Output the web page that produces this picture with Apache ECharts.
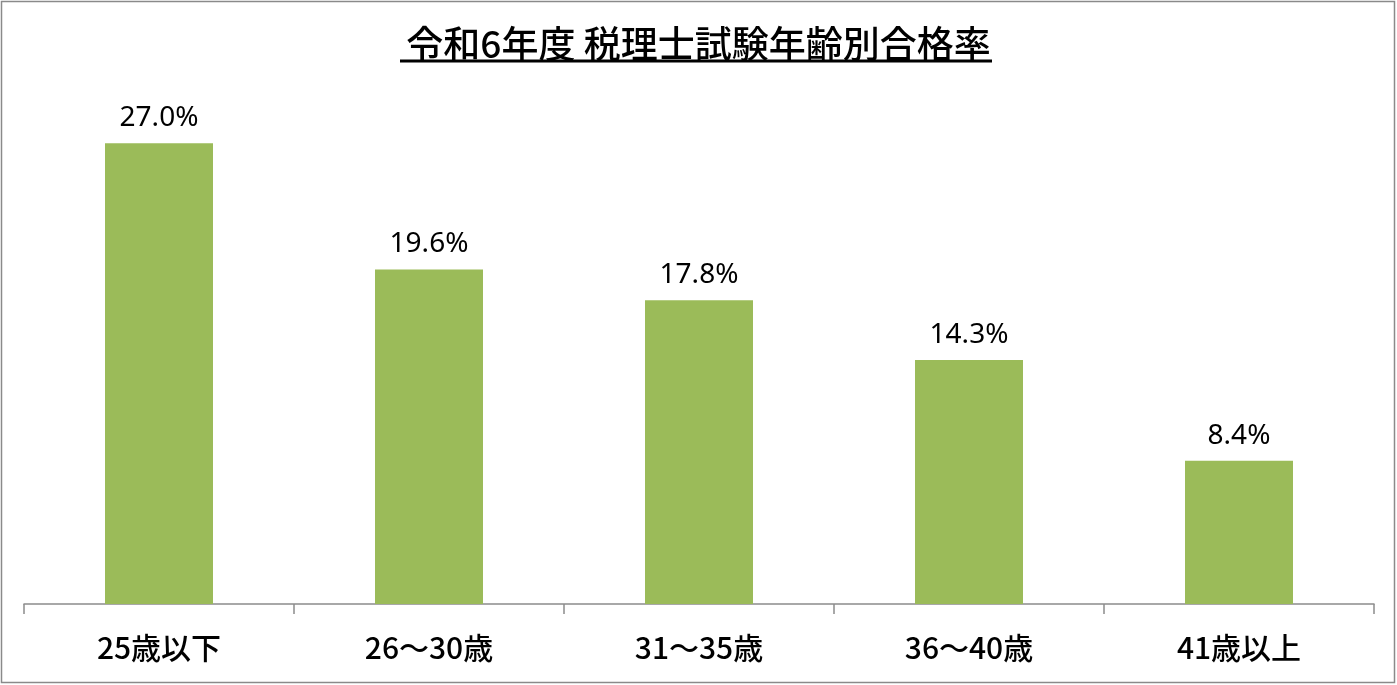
<!DOCTYPE html>
<html><head><meta charset="utf-8">
<script src="https://cdn.jsdelivr.net/npm/echarts@6/dist/echarts.min.js"></script>
<style>html,body{margin:0;padding:0;background:#fff}#c{width:1397px;height:685px}</style>
</head><body><div id="c"></div>
<script>
const categories = ['25歳以下', '26〜30歳', '31〜35歳', '36〜40歳', '41歳以上'];
const passRates = [27.0, 19.6, 17.8, 14.3, 8.4];
const titleText = '令和6年度 税理士試験年齢別合格率';

const chart = echarts.init(document.getElementById('c'));
chart.setOption({
  animation: false,
  backgroundColor: '#fff',
  title: {
    text: titleText, left: 'center', top: 20,
    textStyle: { fontFamily: 'Noto Sans CJK JP', fontSize: 37, fontWeight: 500, color: '#000' }
  },
  graphic: [
    { type: 'rect', shape: { x: 1.5, y: 1.5, width: 1393, height: 681 }, style: { fill: 'none', stroke: '#8a8a8a', lineWidth: 1.5 }, silent: true },
    { type: 'line', shape: { x1: 400, y1: 61, x2: 992, y2: 61 }, style: { stroke: '#000', lineWidth: 3 }, silent: true }
  ],
  grid: { left: 24, right: 23, top: 92, bottom: 81 },
  xAxis: {
    type: 'category', data: categories,
    axisLine: { lineStyle: { color: '#8c8c8c', width: 1.5 } },
    axisTick: { show: true, length: 10, inside: false, lineStyle: { color: '#8c8c8c', width: 1.5 } },
    axisLabel: { margin: 29, fontFamily: 'Noto Sans CJK JP', fontSize: 30, fontWeight: 500, color: '#000' }
  },
  yAxis: { type: 'value', min: 0, max: 30, show: false, splitLine: { show: false } },
  series: [{
    type: 'bar', data: passRates, barCategoryGap: '60%',
    itemStyle: { color: '#9BBB59' },
    label: {
      show: true, position: 'top', distance: 11,
      formatter: p => p.value.toFixed(1) + '%',
      fontFamily: 'Noto Sans', fontSize: 28, color: '#000'
    }
  }]
});
</script></body></html>
